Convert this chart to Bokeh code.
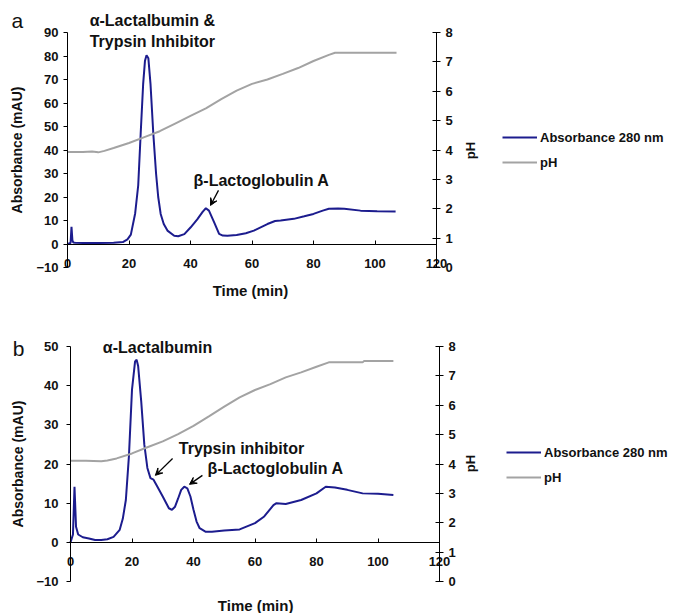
import numpy as np
from bokeh.plotting import figure
from bokeh.layouts import column
from bokeh.models import (LinearAxis, Range1d, Label, Arrow, VeeHead, Legend,
                          LegendItem, FixedTicker)
from bokeh.embed import file_html
from bokeh.resources import INLINE

# ---------------- data: panel a ----------------
time_a = [0, 1.0, 1.3, 1.6, 1.9, 2.5, 5, 10, 15, 18, 19.5, 20.6, 22, 23, 23.8, 24.6,
          25.2, 25.7, 26.3, 27.0, 27.9, 28.8, 29.5, 30.3, 31.3, 32.5, 34.7, 36, 38,
          40, 42.2, 44, 45, 46, 47.7, 49.3, 50.5, 52, 55, 58, 60.6, 65, 67.5, 69.3,
          73.6, 77, 80, 83, 85, 88, 90, 95.3, 100.7, 106.7]
abs_a = [0, 0.4, 7.3, 1.5, 0.6, 0.5, 0.4, 0.4, 0.5, 0.8, 2.0, 4.0, 13, 25, 47, 68,
         78, 80.3, 79, 68, 47, 30, 20, 12.8, 8.5, 5.7, 3.5, 3.3, 4.2,
         7.0, 10.5, 13.8, 15.2, 14.2, 9.2, 4.3, 3.6, 3.5, 3.8, 4.6, 5.7, 8.5, 9.8, 10.0,
         10.7, 11.8, 12.8, 14.2, 15.0, 15.1, 15.0, 14.2, 13.9, 13.8]
time_pa = [0, 5, 8, 10, 12, 15, 20, 25, 30, 35, 40, 45, 50, 55, 60, 65, 70, 75, 80,
           85, 87, 107]
ph_a = [3.93, 3.93, 3.95, 3.92, 3.97, 4.07, 4.24, 4.44, 4.64, 4.90, 5.16, 5.42, 5.73,
        6.02, 6.25, 6.40, 6.59, 6.79, 7.03, 7.24, 7.31, 7.31]

# ---------------- data: panel b ----------------
time_b = [0, 0.8, 1.3, 1.8, 2.5, 4, 6, 8, 10, 12, 14, 15, 16, 17, 18, 19, 20, 21,
          21.5, 22, 23, 24, 25, 26, 27, 28, 30, 32, 33, 34, 35, 36, 37, 38, 39, 40,
          41, 42, 44, 46, 50, 55, 60, 63, 66, 67, 70, 75, 80, 83, 86, 90, 95, 100, 105]
abs_b = [0, 2.0, 14.2, 4.0, 2.0, 1.3, 1.0, 0.6, 0.6, 0.8, 1.4, 2.3, 3.2, 6.0, 10.8,
         22, 39, 46.2, 46.6, 45, 36, 25, 19, 16.4, 16.0, 14.6, 11.7, 8.7, 8.3, 9.1,
         11.2, 13.4, 14.2, 13.8, 11.7, 8.3, 5.3, 3.6, 2.7, 2.7, 3.0, 3.3, 4.9, 6.6,
         9.5, 10.0, 9.8, 10.8, 12.5, 14.2, 14.0, 13.4, 12.5, 12.4, 12.1]
time_pb = [0, 5, 10, 12, 15, 20, 25, 30, 35, 40, 45, 50, 55, 60, 65, 70, 75, 80, 84,
           95, 95.5, 105]
ph_b = [4.11, 4.11, 4.09, 4.12, 4.19, 4.36, 4.57, 4.77, 5.02, 5.30, 5.62, 5.95, 6.27,
        6.52, 6.72, 6.95, 7.12, 7.31, 7.46, 7.46, 7.51, 7.51]

x_ticks = [0, 20, 40, 60, 80, 100, 120]
ph_ticks = [0, 1, 2, 3, 4, 5, 6, 7, 8]
ticks_a = [-10, 0, 10, 20, 30, 40, 50, 60, 70, 80, 90]
ticks_b = [-10, 0, 10, 20, 30, 40, 50]

BLUE = "#1c1c8e"
GREY = "#a3a3a3"
FONT = "Liberation Sans"
TXT = "#111111"
FIG_W = 681


def make_panel(t, a, tp, ph, ylim, yticks, fig_h, px_x0, px_x120, px_ytop, px_ybot,
               letter, letter_pos, annotations, arrows, title_pos, ph_pos,
               legend_loc, left_std, left_lab_std):
    # map data extent to pixel placement: frame covers whole figure
    sx = (px_x120 - px_x0) / 120.0
    x0 = -px_x0 / sx
    x1 = 120 + (FIG_W - px_x120) / sx
    sy = (px_ybot - px_ytop) / float(ylim[1] - ylim[0])
    y1 = ylim[1] + px_ytop / sy
    y0 = ylim[0] - (fig_h - px_ybot) / sy
    ph_scale = (ylim[1] - ylim[0]) / 8.0
    p0 = (y0 - ylim[0]) / ph_scale
    p1 = (y1 - ylim[0]) / ph_scale

    p = figure(width=FIG_W, height=fig_h, output_backend="svg",
               toolbar_location=None, x_range=Range1d(x0, x1),
               y_range=Range1d(y0, y1), min_border=0,
               x_axis_location=None, y_axis_location=None)
    p.outline_line_color = None
    p.grid.visible = False
    p.background_fill_color = "white"
    p.border_fill_color = "white"
    p.extra_y_ranges = {"ph": Range1d(p0, p1)}

    la = p.line(t, a, line_color=BLUE, line_width=2)
    lp = p.line(tp, ph, line_color=GREY, line_width=2, y_range_name="ph")

    def style(ax):
        ax.minor_tick_line_color = None
        ax.major_label_text_font = FONT
        ax.major_label_text_font_style = "bold"
        ax.major_label_text_font_size = "13px"
        ax.major_label_text_color = TXT
        ax.axis_line_color = "black"
        ax.major_tick_line_color = "black"

    xa = LinearAxis(fixed_location=0, ticker=FixedTicker(ticks=x_ticks),
                    bounds=(0, 120))
    style(xa)
    xa.major_tick_in = 4
    xa.major_tick_out = 0
    xa.major_label_standoff = 15
    p.add_layout(xa, "below")

    ya = LinearAxis(fixed_location=0, ticker=FixedTicker(ticks=yticks),
                    bounds=tuple(ylim))
    style(ya)
    ya.major_tick_in = 0
    ya.major_tick_out = 4
    ya.major_label_standoff = left_std
    ya.axis_label = "Absorbance (mAU)"
    ya.axis_label_text_font = FONT
    ya.axis_label_text_font_style = "bold"
    ya.axis_label_text_font_size = "14px"
    ya.axis_label_text_color = TXT
    ya.axis_label_standoff = left_lab_std
    p.add_layout(ya, "left")

    ra = LinearAxis(y_range_name="ph", fixed_location=120,
                    ticker=FixedTicker(ticks=ph_ticks), bounds=(0, 8))
    style(ra)
    ra.major_tick_in = 4
    ra.major_tick_out = 4
    ra.major_label_standoff = 5
    p.add_layout(ra, "right")

    p.add_layout(Label(x=letter_pos[0], y=letter_pos[1], text=letter,
                       text_font=FONT, text_font_size="21px",
                       text_align="center", text_baseline="middle",
                       text_color=TXT))
    for txt, xx, yy in annotations:
        p.add_layout(Label(x=xx, y=yy, text=txt, text_font=FONT,
                           text_font_style="bold", text_font_size="16px",
                           text_align="center", text_baseline="middle",
                           text_color=TXT))
    for xs, ys, xe, ye in arrows:
        p.add_layout(Arrow(x_start=xs, y_start=ys, x_end=xe, y_end=ye,
                           line_width=1.3, line_color="black",
                           end=VeeHead(size=7, line_color="black",
                                       fill_color="black", line_width=1)))
    p.add_layout(Label(x=title_pos[0], y=title_pos[1], text="Time (min)",
                       text_font=FONT, text_font_style="bold",
                       text_font_size="15px", text_align="center",
                       text_baseline="middle", text_color=TXT))
    p.add_layout(Label(x=ph_pos[0], y=ph_pos[1], text="pH", text_font=FONT,
                       text_font_style="bold", text_font_size="13px",
                       angle=np.pi / 2, text_align="center",
                       text_baseline="middle", text_color=TXT))

    leg = Legend(items=[LegendItem(label="Absorbance 280 nm", renderers=[la]),
                        LegendItem(label="pH", renderers=[lp])],
                 location=legend_loc, orientation="vertical",
                 glyph_width=35, glyph_height=20, label_height=20,
                 label_standoff=3, spacing=5, padding=0, margin=0,
                 border_line_alpha=0, background_fill_alpha=0,
                 label_text_font=FONT, label_text_font_style="bold",
                 label_text_font_size="13px", label_text_color=TXT)
    p.add_layout(leg, "center")
    return p


pa = make_panel(time_a, abs_a, time_pa, ph_a, (-10, 90), ticks_a, 300,
                67, 436, 32, 267, "a", (-16.3, 95.1),
                [("α-Lactalbumin &", 27.6, 95.1),
                 ("Trypsin Inhibitor", 27.6, 86.2),
                 ("β-Lactoglobulin A", 63.1, 27.0)],
                [(49.1, 22.8, 46.5, 16.4)],
                (59.5, -19.8), (131.0, 39.8), (502, 128), 5, 8)

pb = make_panel(time_b, abs_b, time_pb, ph_b, (-10, 50), ticks_b, 313,
                70, 439, 46, 281, "b", (-16.9, 49.5),
                [("α-Lactalbumin", 28.3, 49.7),
                 ("Trypsin inhibitor", 55.6, 24.0),
                 ("β-Lactoglobulin A", 66.7, 18.9)],
                [(33.2, 21.4, 27.6, 17.1), (42.9, 17.1, 38.7, 14.8)],
                (60.2, -16.1), (130.1, 20.1), (506, 126), 8, 7)

layout = column(pa, pb, spacing=0)
open("out.html", "w").write(file_html(layout, INLINE))
